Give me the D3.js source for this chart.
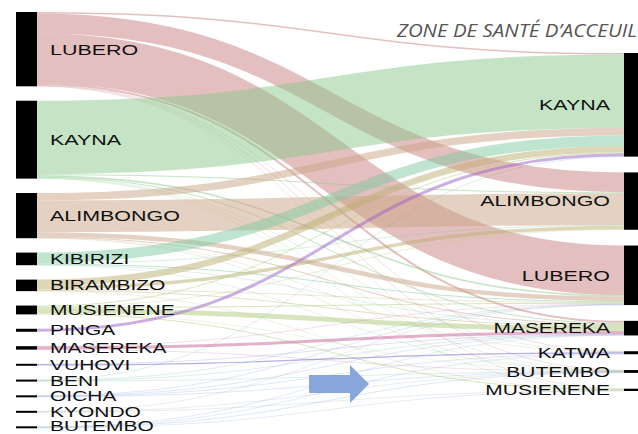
<!DOCTYPE html>
<html>
<head>
<meta charset="utf-8">
<script src="https://cdn.jsdelivr.net/npm/d3@7"></script>
<style>
body { margin: 0; background: #fff; }
svg { display: block; }
.lbl { font-family: "Liberation Sans", Arial, sans-serif; fill: #111; }
</style>
</head>
<body>
<svg id="chart" width="638" height="434"></svg>
<script>
// zones of origin (left) and zones of arrival (right)
let leftZones = ['LUBERO', 'KAYNA', 'ALIMBONGO', 'KIBIRIZI', 'BIRAMBIZO', 'MUSIENENE', 'PINGA',
    'MASEREKA', 'VUHOVI', 'BENI', 'OICHA', 'KYONDO', 'BUTEMBO'];
let rightZones = ['KAYNA', 'ALIMBONGO', 'LUBERO', 'MASEREKA', 'KATWA', 'BUTEMBO', 'MUSIENENE'];

// flows from each origin zone, in the order of rightZones
let fromLubero    = [1.5, 20, 50, 2, 0.5, 0.5, 0.3];
let fromKayna     = [74, 1, 1.5, 1, 0.3, 0.3, 0.3];
let fromAlimbongo = [7.5, 32, 4.5, 1, 0.3, 0.2, 0];
let fromKibirizi  = [10.5, 0.6, 1, 0.5, 0, 0.1, 0];
let fromBirambizo = [6.5, 3.5, 0.6, 0.8, 0, 0, 0.2];
let fromMusienene = [1, 0.6, 1, 5, 0, 0.3, 1];
let fromPinga     = [3, 0, 0, 0, 0, 0, 0];
let fromMasereka  = [0, 0, 0.3, 3, 0, 0.2, 0];
let fromVuhovi    = [0, 0, 0, 0.3, 1.2, 0, 0];
let fromBeni      = [0.3, 0, 0.4, 0.4, 0, 0.2, 0];
let fromOicha     = [0, 0, 0.3, 0.3, 0.4, 0.4, 0];
let fromKyondo    = [0, 0, 0.3, 0, 0, 0.2, 0.3];
let fromButembo   = [0, 0, 0, 0.4, 0.3, 0.5, 0.2];

let zoneColors = ['#c97f7f', '#8bc88b', '#c9a384', '#7fc9a0', '#bcb070', '#b0cc7c', '#9c62c8',
    '#c8649a', '#6f62cc', '#5ab0a0', '#6a88d0', '#9aa0a8', '#6f9fd0'];

let title = 'ZONE DE SANTÉ D’ACCEUIL';

let matrix = [fromLubero, fromKayna, fromAlimbongo, fromKibirizi, fromBirambizo, fromMusienene,
    fromPinga, fromMasereka, fromVuhovi, fromBeni, fromOicha, fromKyondo, fromButembo];

let svg = d3.select('#chart');
let xLeft = 16, xRight = 624, barW = 21;
let leftTop = 12, rightTop = 53, leftBottom = 428;
let padL = 14.4, padR = 15.8;

let leftTotals = matrix.map(r => d3.sum(r));
let rightTotals = rightZones.map((z, j) => d3.sum(matrix, r => r[j]));
let total = d3.sum(leftTotals);

let ky = d3.scaleLinear()
    .domain([0, total])
    .range([0, leftBottom - leftTop - padL * (leftZones.length - 1)]);

function stack(totals, top, pad){
    let y = top;
    return totals.map(function(t){
        let n = {y0: y, y1: y + ky(t), value: t};
        y = n.y1 + pad;
        return n;
    });
}
let leftNodes = stack(leftTotals, leftTop, padL);
let rightNodes = stack(rightTotals, rightTop, padR);

// build links, ordered by target at source side and by source at target side
let links = [];
matrix.forEach(function(row, i){
    row.forEach(function(v, j){
        if (v > 0) links.push({s: i, t: j, value: v});
    });
});
let sy = leftNodes.map(n => n.y0);
let ty = rightNodes.map(n => n.y0);
links.forEach(function(l){
    let w = ky(l.value);
    l.width = w;
    l.y0 = sy[l.s] + w / 2; sy[l.s] += w;
});
links.slice().sort((a, b) => a.t - b.t || a.s - b.s).forEach(function(l){
    l.y1 = ty[l.t] + l.width / 2; ty[l.t] += l.width;
});

let link = d3.linkHorizontal()
    .source(d => [xLeft + barW, d.y0])
    .target(d => [xRight, d.y1]);

svg.append('g').selectAll('path')
    .data(links)
    .enter()
    .append('path')
    .attr('d', link)
    .attr('fill', 'none')
    .attr('stroke', d => zoneColors[d.s])
    .attr('stroke-opacity', 0.5)
    .attr('stroke-width', d => Math.max(0.4, d.width));

// node bars
function drawBars(nodes, x){
    svg.append('g').selectAll('rect')
        .data(nodes)
        .enter()
        .append('rect')
        .attr('x', x)
        .attr('y', d => d.y1 - d.y0 < 2 ? (d.y0 + d.y1) / 2 - 1 : d.y0)
        .attr('width', barW)
        .attr('height', d => Math.max(2, d.y1 - d.y0))
        .attr('fill', '#000');
}
drawBars(leftNodes, xLeft);
drawBars(rightNodes, xRight);

// labels (stretched horizontally like the original)
function labelTf(x, d){
    let big = d.value > 30;
    let y = Math.min((d.y0 + d.y1) / 2, 426);
    return 'translate(' + x + ',' + y + ') scale(' + (big ? 1.43 : 1.5) + ',1)';
}

svg.append('g').selectAll('text')
    .data(leftNodes)
    .enter()
    .append('text')
    .attr('class', 'lbl')
    .attr('font-size', d => d.value > 30 ? 15 : 14)
    .attr('transform', d => labelTf(50, d))
    .attr('dy', '0.36em')
    .text((d, i) => leftZones[i]);

svg.append('g').selectAll('text')
    .data(rightNodes)
    .enter()
    .append('text')
    .attr('class', 'lbl')
    .attr('font-size', d => d.value > 30 ? 15 : 14)
    .attr('text-anchor', 'end')
    .attr('transform', d => labelTf(610, d))
    .attr('dy', '0.36em')
    .text((d, i) => rightZones[i]);

svg.append('text')
    .attr('transform', 'translate(397,37) scale(1.17,1)')
    .attr('font-family', '"Open Sans", sans-serif')
    .attr('font-style', 'italic')
    .attr('font-size', 17.5)
    .attr('fill', '#555')
    .text(title);

// blue arrow
let ax = 309, ay = 384;
let arrow = d3.path();
arrow.moveTo(ax, ay - 9);
arrow.lineTo(ax + 41, ay - 9);
arrow.lineTo(ax + 41, ay - 19);
arrow.lineTo(ax + 60, ay);
arrow.lineTo(ax + 41, ay + 19);
arrow.lineTo(ax + 41, ay + 9);
arrow.lineTo(ax, ay + 9);
arrow.closePath();
svg.append('path')
    .attr('d', arrow.toString())
    .attr('fill', '#86a6dc');
</script>
</body>
</html>
